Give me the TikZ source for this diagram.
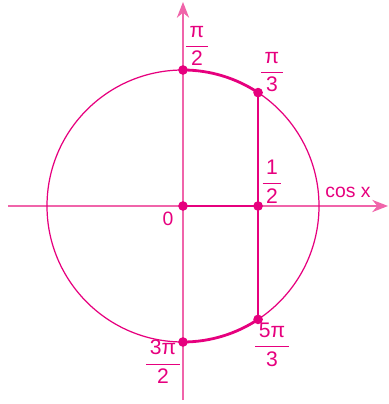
\documentclass[tikz,border=0pt]{standalone}
\usepackage{amsmath}
\usepackage{fontspec}
\setmainfont{Liberation Sans}
\usetikzlibrary{arrows.meta}
\definecolor{trig}{RGB}{230,0,126}
\definecolor{trigaxis}{RGB}{240,100,170}
\newcommand{\frc}[2]{$\dfrac{\mkern3mu\textrm{#1}\mkern3mu}{\mkern3mu\textrm{#2}\mkern3mu}$}
\tikzset{
  axis/.style={-{Stealth[length=9pt,width=7pt]}, line width=0.7pt, trigaxis},
  unit/.style={draw=trig, line width=0.7pt},
  arcpart/.style={trig, line width=1.6pt},
  proj/.style={trig, line width=0.9pt},
  dot/.style={circle, fill=trig, inner sep=0pt, minimum size=5.5pt},
  lab/.style={text=trig, font=\fontsize{11}{13}\selectfont, inner sep=0pt},
  flab/.style={lab, font=\fontsize{12}{14}\selectfont}
}
\begin{document}
\begin{tikzpicture}[x=0.02cm,y=0.02cm]
  \useasboundingbox (-183,-198) rectangle (205,206);
  % axes
  \coordinate (xs) at (-175,0); \coordinate (xe) at (205,0);
  \coordinate (ys) at (0,-194); \coordinate (ye) at (0,204);
  \draw[axis] (xs)--(xe);
  \draw[axis] (ys)--(ye);
  % unit circle and points
  \draw[unit] (0,0) circle (136);
  \coordinate (O) at (0,0);
  \coordinate (T) at (90:136);
  \coordinate (B) at (270:136);
  \coordinate (P) at (56.5:136);
  \coordinate (Q) at (-56.5:136);
  \coordinate (H) at (P |- O);
  \draw[arcpart] (T) arc (90:56.5:136);
  \draw[arcpart] (B) arc (270:303.5:136);
  \draw[proj] (P)--(Q);
  \draw[arcpart] (O)--(H);
  \foreach \p in {O,T,B,P,Q,H}{\node[dot] at (\p){};}
  % labels
  \node[flab] (lpi2) at (14,160) {\frc{π}{2}};
  \node[flab] (lpi3) at (89,134) {\frc{π}{3}};
  \node[flab] (lhalf) at (89,24) {\frc{1}{2}};
  \node[lab] (lcos) at (165,14) {cos x};
  \node[lab] (lzero) at (-15,-13) {0};
  \node[flab] (l3pi2) at (-20,-156) {\frc{3π}{2}};
  \node[flab] (l5pi3) at (89,-139) {\frc{5π}{3}};
\end{tikzpicture}
\end{document}
